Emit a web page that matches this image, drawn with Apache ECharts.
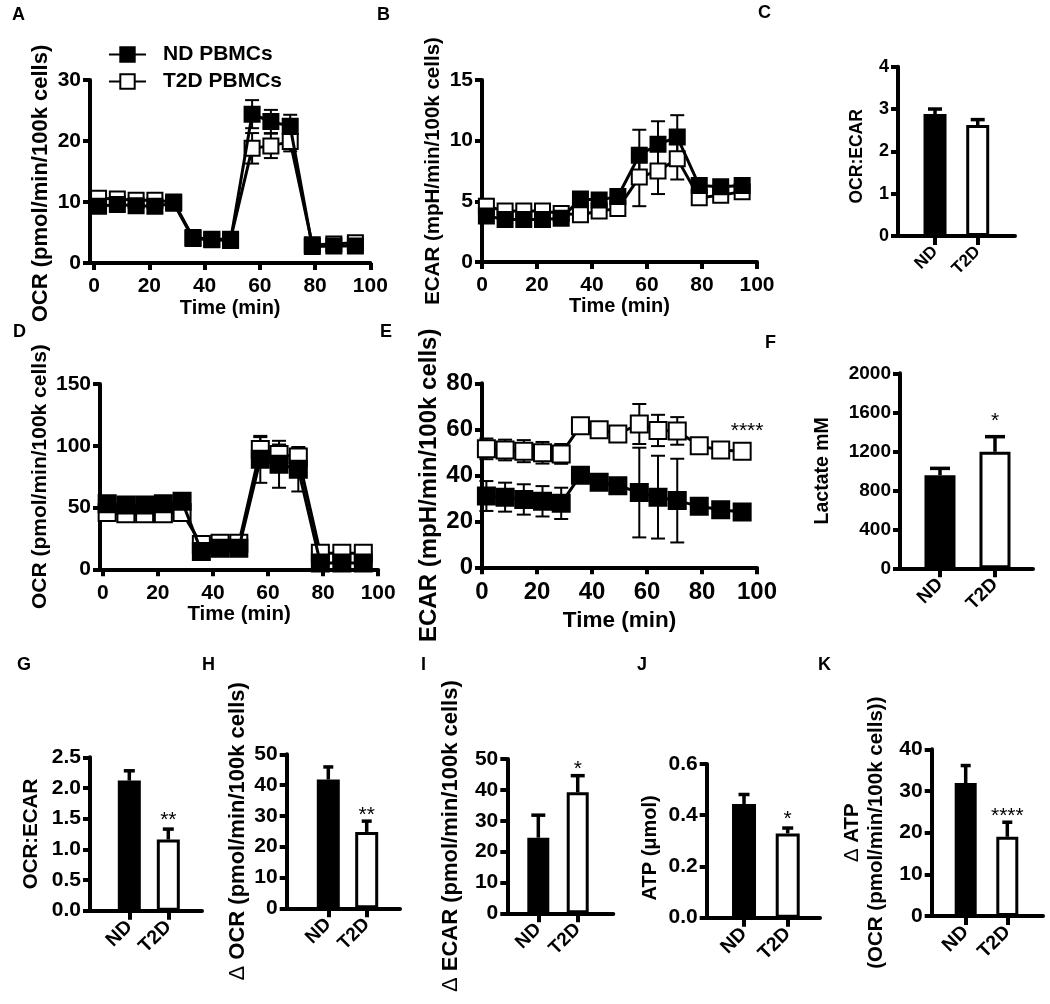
<!DOCTYPE html>
<html>
<head>
<meta charset="utf-8">
<script src="https://cdn.jsdelivr.net/npm/echarts@6/dist/echarts.min.js"></script>
<style>
  html, body { margin: 0; padding: 0; background: #fff; }
  #main { width: 1050px; height: 1004px; }
</style>
</head>
<body>
<div id="main"></div>
<script>
// ---- data ----
var timeMin = [1.6, 8.4, 15.2, 22, 28.8, 35.8, 42.6, 49.4, 57.2, 64, 71, 79, 86.8, 94.6];
var timeTicks = [0, 20, 40, 60, 80, 100];

// A: OCR (pmol/min/100k cells)
var ocrA_ND = [9.3, 9.6, 9.4, 9.3, 9.8, 4.0, 3.8, 3.7, 24.4, 23.2, 22.4, 2.7, 2.8, 2.8];
var ocrA_NDerr = [0.6, 0.5, 0.5, 0.5, 0.4, 0.4, 0.3, 0.3, 2.3, 1.9, 1.9, 0.3, 0.3, 0.3];
var ocrA_T2D = [10.6, 10.5, 10.3, 10.3, 10.0, 4.2, 3.9, 3.9, 18.8, 19.2, 19.9, 3.0, 3.1, 3.3];
var ocrA_T2Derr = [0.6, 0.5, 0.5, 0.5, 0.4, 0.4, 0.3, 0.3, 2.5, 2.0, 1.6, 0.3, 0.3, 0.3];

// B: ECAR (mpH/min/100k cells)
var ecarB_ND = [3.8, 3.5, 3.5, 3.5, 3.6, 5.2, 5.1, 5.4, 8.8, 9.7, 10.3, 6.3, 6.2, 6.3];
var ecarB_NDerr = [0.5, 0.3, 0.3, 0.3, 0.3, 0.3, 0.3, 0.3, 2.1, 1.9, 1.8, 0.3, 0.3, 0.3];
var ecarB_T2D = [4.6, 4.2, 4.2, 4.2, 4.0, 3.9, 4.2, 4.4, 7.0, 7.5, 8.5, 5.3, 5.5, 5.8];
var ecarB_T2Derr = [0.6, 0.4, 0.4, 0.4, 0.3, 0.3, 0.3, 0.3, 2.4, 1.9, 1.7, 0.3, 0.3, 0.3];

// D: OCR
var ocrD_ND = [53, 52, 52, 53, 55, 14.5, 17, 17, 89, 85, 81, 5, 5, 5];
var ocrD_NDerr = [3, 3, 3, 3, 3, 2, 2, 2, 19, 19, 18, 2, 2, 2];
var ocrD_T2D = [46, 45, 45, 45, 46, 20, 21, 21, 97, 93, 91, 13, 13, 13];
var ocrD_T2Derr = [4, 3, 3, 3, 3, 3, 3, 3, 10, 8, 7, 2, 2, 2];

// E: ECAR
var ecarE_ND = [31, 30.5, 29.5, 28.7, 27.8, 40, 37, 35.5, 32.5, 30.5, 29, 26.5, 25, 24];
var ecarE_NDerr = [6.5, 6.3, 6.6, 6.6, 6.8, 1, 1, 1, 19.5, 18, 18.2, 1, 1, 1];
var ecarE_T2D = [51.5, 51, 50.5, 49.8, 49.3, 61.5, 59.8, 58, 62.3, 59.5, 59.3, 52.8, 51, 50.5];
var ecarE_T2Derr = [4.5, 4.5, 4.8, 4.7, 4.3, 1, 1, 1, 8.7, 6.8, 6, 1, 1, 1];
var sigE = [[96.4, 61, '****']];

// bar panels
var groups = ['ND', 'T2D'];
var ratioC = [2.88, 2.62], ratioCErr = [0.12, 0.13], sigC = ['', ''];
var lactateF = [955, 1195], lactateFErr = [70, 155], sigF = ['', '*'];
var ratioG = [2.12, 1.16], ratioGErr = [0.16, 0.17], sigG = ['', '**'];
var dOcrH = [41.8, 24.8], dOcrHErr = [4.1, 3.5], sigH = ['', '**'];
var dEcarI = [24.5, 39.2], dEcarIErr = [7.3, 5.4], sigI = ['', '*'];
var atpJ = [0.444, 0.329], atpJErr = [0.037, 0.021], sigJ = ['', '*'];
var dAtpK = [31.9, 19.0], dAtpKErr = [4.2, 3.5], sigK = ['', '****'];

var panelLetters = ['A', 'B', 'C', 'D', 'E', 'F', 'G', 'H', 'I', 'J', 'K'];

// ---- layout / drawing ----
var FONT = '"Liberation Sans", Arial, Helvetica, sans-serif';
var letterPos = [[12, 6], [377, 6], [758, 4], [13, 323], [380, 323], [765, 334],
                 [17, 656], [202, 656], [421, 656], [637, 656], [818, 656]];

var chart = echarts.init(document.getElementById('main'));

var option = {
    animation: false,
    textStyle: { fontFamily: FONT, fontWeight: 'bold', color: '#000' },
    legend: {
        data: ['ND PBMCs', 'T2D PBMCs'],
        orient: 'vertical',
        left: 103,
        top: 39,
        itemWidth: 37,
        itemHeight: 18,
        itemGap: 6,
        selectedMode: false,
        textStyle: { fontSize: 21, fontWeight: 'bold', color: '#000', fontFamily: FONT, padding: [0, 0, 0, 12] }
    },
    grid: [],
    xAxis: [],
    yAxis: [],
    series: [],
    graphic: []
};

function txt(size, weight) {
    return { fontSize: size, fontWeight: weight || 'bold', color: '#000', fontFamily: FONT };
}

function addGrid(box) {
    option.grid.push({ left: box[0], top: box[1], width: box[2], height: box[3], outerBoundsMode: 'none' });
    return option.grid.length - 1;
}

function makeYAxis(gi, p) {
    var label = txt(p.tick);
    label.margin = 9;
    label.formatter = p.yFmt || function (v) { return String(v); };
    var nameStyle = txt(p.yTitle);
    nameStyle.lineHeight = p.yTitle + 3;
    // shift the title down along the axis (Prism centres it a bit low)
    if (p.yShift) nameStyle.padding = [0, 2 * p.yShift, 0, 0];
    nameStyle.rich = { d: { fontSize: p.yTitle, fontWeight: 'normal', fontFamily: FONT, color: '#000' } };
    return {
        gridIndex: gi, type: 'value', min: 0, max: p.yMax, interval: p.yStep,
        axisLine: { show: true, onZero: false, lineStyle: { color: '#000', width: 4 } },
        axisTick: { show: true, length: 7, lineStyle: { color: '#000', width: 4 } },
        axisLabel: label,
        splitLine: { show: false },
        name: p.yName, nameLocation: 'middle', nameRotate: 90, nameGap: p.yGap,
        nameTextStyle: nameStyle
    };
}

// error bars for time courses (both directions)
function pointErr(cap) {
    return function (params, api) {
        var x = api.value(0), y = api.value(1), e = api.value(2);
        var hi = api.coord([x, y + e]), lo = api.coord([x, y - e]);
        var st = { stroke: '#000', lineWidth: 2 };
        return {
            type: 'group', children: [
                { type: 'line', shape: { x1: hi[0], y1: hi[1], x2: lo[0], y2: lo[1] }, style: st },
                { type: 'line', shape: { x1: hi[0] - cap / 2, y1: hi[1], x2: hi[0] + cap / 2, y2: hi[1] }, style: st },
                { type: 'line', shape: { x1: lo[0] - cap / 2, y1: lo[1], x2: lo[0] + cap / 2, y2: lo[1] }, style: st }
            ]
        };
    };
}

// upward error bar for bars, plus significance stars
function barErr(cap, sig, gap) {
    return function (params, api) {
        var x = api.value(0), y = api.value(1), e = api.value(2);
        var base = api.coord([x, y]), top = api.coord([x, y + e]);
        var st = { stroke: '#000', lineWidth: 3.5 };
        var kids = [
            { type: 'line', shape: { x1: base[0], y1: base[1], x2: top[0], y2: top[1] }, style: st },
            { type: 'line', shape: { x1: top[0] - cap / 2, y1: top[1], x2: top[0] + cap / 2, y2: top[1] }, style: st }
        ];
        var s = sig[params.dataIndex];
        if (s) {
            kids.push({
                type: 'text', x: top[0], y: top[1] - gap + 0.22 * 21,
                style: { text: s, fill: '#000', font: 'normal 21px ' + FONT, align: 'center', verticalAlign: 'middle' }
            });
        }
        return { type: 'group', children: kids };
    };
}

function addLinePanel(p) {
    var gi = addGrid(p.box);
    var xl = txt(p.tick);
    xl.margin = 13;
    xl.customValues = timeTicks;
    option.xAxis.push({
        gridIndex: gi, type: 'value', min: p.xMin, max: 100,
        axisLine: { show: true, onZero: false, lineStyle: { color: '#000', width: 4 } },
        axisTick: { show: true, length: 7, lineStyle: { color: '#000', width: 4 }, customValues: timeTicks },
        axisLabel: xl,
        splitLine: { show: false },
        name: 'Time (min)', nameLocation: 'middle', nameGap: p.xGap, nameTextStyle: txt(p.xTitle)
    });
    option.yAxis.push(makeYAxis(gi, p));

    var pts = function (ys) { return timeMin.map(function (t, i) { return [t, ys[i]]; }); };
    var errPts = function (ys, es) { return timeMin.map(function (t, i) { return [t, ys[i], es[i]]; }); };

    [[p.t2d, p.t2dErr], [p.nd, p.ndErr]].forEach(function (d) {
        option.series.push({
            type: 'custom', xAxisIndex: gi, yAxisIndex: gi, silent: true, z: 1,
            renderItem: pointErr(14), encode: { x: 0, y: 1 }, data: errPts(d[0], d[1])
        });
    });
    option.series.push({
        type: 'line', name: p.names[1], xAxisIndex: gi, yAxisIndex: gi, z: 2, silent: true,
        data: pts(p.t2d), symbol: 'rect', symbolSize: p.sym,
        itemStyle: { color: '#fff', borderColor: '#000', borderWidth: 2 },
        lineStyle: { color: '#000', width: 3 }
    });
    option.series.push({
        type: 'line', name: p.names[0], xAxisIndex: gi, yAxisIndex: gi, z: 3, silent: true,
        data: pts(p.nd), symbol: 'rect', symbolSize: p.sym,
        itemStyle: { color: '#000', borderColor: '#000', borderWidth: 2 },
        lineStyle: { color: '#000', width: 3 }
    });
    if (p.note) {
        option.series.push({
            type: 'custom', xAxisIndex: gi, yAxisIndex: gi, silent: true, z: 4,
            encode: { x: 0, y: 1 }, data: p.note,
            renderItem: function (params, api) {
                var c = api.coord([api.value(0), api.value(1)]);
                return {
                    type: 'text', x: c[0], y: c[1] + 0.22 * 21,
                    style: { text: p.note[params.dataIndex][2], fill: '#000', font: 'normal 21px ' + FONT, align: 'center', verticalAlign: 'middle' }
                };
            }
        });
    }
}

function addBarPanel(p) {
    var gi = addGrid(p.box);
    var xl = txt(p.cat);
    xl.margin = 13;
    xl.rotate = 45;
    xl.customValues = [1, 2];
    xl.formatter = function (v) { return groups[Math.round(v) - 1]; };
    option.xAxis.push({
        gridIndex: gi, type: 'value', min: p.xMin, max: p.xMax,
        axisLine: { show: true, onZero: false, lineStyle: { color: '#000', width: 4 } },
        axisTick: { show: true, length: 9, lineStyle: { color: '#000', width: 4 }, customValues: [1, 2] },
        axisLabel: xl,
        splitLine: { show: false }
    });
    option.yAxis.push(makeYAxis(gi, p));
    option.series.push({
        type: 'bar', xAxisIndex: gi, yAxisIndex: gi, barWidth: p.barW, silent: true, z: 2,
        itemStyle: { borderColor: '#000', borderWidth: 3 },
        data: groups.map(function (g, i) {
            return { value: [i + 1, p.vals[i]], itemStyle: { color: i === 0 ? '#000' : '#fff' } };
        })
    });
    option.series.push({
        type: 'custom', xAxisIndex: gi, yAxisIndex: gi, silent: true, z: 3,
        encode: { x: 0, y: 1 }, renderItem: barErr(p.capW, p.sig, p.sigGap),
        data: groups.map(function (g, i) { return [i + 1, p.vals[i], p.errs[i]]; })
    });
}

var ocrName = 'OCR (pmol/min/100k cells)';
var ecarName = 'ECAR (mpH/min/100k cells)';
var oneDecimal = function (v) { return v.toFixed(1); };

addLinePanel({ box: [90, 80, 280.3, 183], xMin: -1.5, yMax: 30, yStep: 10, tick: 21, xTitle: 20, yTitle: 22,
    yGap: 33, xGap: 35, sym: 15, yShift: 12, yName: ocrName, names: ['ND PBMCs', 'T2D PBMCs'],
    nd: ocrA_ND, ndErr: ocrA_NDerr, t2d: ocrA_T2D, t2dErr: ocrA_T2Derr });
addLinePanel({ box: [482, 80, 275, 182], xMin: 0, yMax: 15, yStep: 5, tick: 21, xTitle: 20, yTitle: 20.5,
    yGap: 37, xGap: 34, sym: 15, yName: ecarName, names: ['ND B', 'T2D B'],
    nd: ecarB_ND, ndErr: ecarB_NDerr, t2d: ecarB_T2D, t2dErr: ecarB_T2Derr });
addBarPanel({ box: [898, 66.7, 117, 169.3], xMin: 0.133, xMax: 2.873, yMax: 4, yStep: 1, tick: 18, cat: 17,
    yTitle: 17.5, yGap: 31, yShift: 5, barW: 23, capW: 14, sigGap: 12, yName: 'OCR:ECAR',
    vals: ratioC, errs: ratioCErr, sig: sigC });
addLinePanel({ box: [100, 384, 278.2, 185.3], xMin: -1, yMax: 150, yStep: 50, tick: 21, xTitle: 20.5, yTitle: 21,
    yGap: 45, xGap: 32, sym: 17, yName: ocrName, names: ['ND D', 'T2D D'],
    nd: ocrD_ND, ndErr: ocrD_NDerr, t2d: ocrD_T2D, t2dErr: ocrD_T2Derr });
addLinePanel({ box: [482, 383.3, 275, 184], xMin: 0, yMax: 80, yStep: 20, tick: 24, xTitle: 22.5, yTitle: 24,
    yGap: 38, xGap: 42, sym: 17, yShift: 10, yName: ecarName, names: ['ND E', 'T2D E'], note: sigE,
    nd: ecarE_ND, ndErr: ecarE_NDerr, t2d: ecarE_T2D, t2dErr: ecarE_T2Derr });
addBarPanel({ box: [900, 373.3, 133, 195], xMin: 0.273, xMax: 2.691, yMax: 2000, yStep: 400, tick: 19, cat: 19,
    yTitle: 19.5, yGap: 66, barW: 31, capW: 20, sigGap: 20, yName: 'Lactate mM',
    vals: lactateF, errs: lactateFErr, sig: sigF });
addBarPanel({ box: [90, 757.3, 112, 153.4], xMin: -0.008, xMax: 2.864, yMax: 2.5, yStep: 0.5, tick: 21, cat: 19.5,
    yTitle: 20.5, yGap: 47, barW: 23, capW: 11, sigGap: 13.5, yName: 'OCR:ECAR', yFmt: oneDecimal,
    vals: ratioG, errs: ratioGErr, sig: sigG });
addBarPanel({ box: [286.7, 754.3, 113.3, 154], xMin: -0.083, xMax: 2.867, yMax: 50, yStep: 10, tick: 21, cat: 19,
    yTitle: 22, yGap: 36, barW: 23, capW: 10, sigGap: 11, yName: '{d|\u0394} ' + ocrName,
    vals: dOcrH, errs: dOcrHErr, sig: sigH });
addBarPanel({ box: [507.3, 759, 106, 154.3], xMin: 0.213, xMax: 2.903, yMax: 50, yStep: 10, tick: 21, cat: 19,
    yTitle: 22, yGap: 44, barW: 22, capW: 14, sigGap: 10.7, yName: '{d|\u0394} ECAR (pmol/min/100k cells)',
    vals: dEcarI, errs: dEcarIErr, sig: sigI });
addBarPanel({ box: [706.7, 764, 113.3, 153.7], xMin: 0.146, xMax: 2.739, yMax: 0.6, yStep: 0.2, tick: 21, cat: 19.5,
    yTitle: 20, yGap: 45, yShift: 7, barW: 24, capW: 11, sigGap: 13, yName: 'ATP (\u03bcmol)', yFmt: oneDecimal,
    vals: atpJ, errs: atpJErr, sig: sigJ });
addBarPanel({ box: [931.7, 749.3, 111.3, 166.7], xMin: 0.183, xMax: 2.858, yMax: 40, yStep: 10, tick: 21, cat: 19.5,
    yTitle: 20.5, yGap: 44, barW: 22, capW: 10, sigGap: 10.5, yName: '{d|\u0394} ATP\n(' + ocrName + ')',
    vals: dAtpK, errs: dAtpKErr, sig: sigK });

panelLetters.forEach(function (l, i) {
    option.graphic.push({
        type: 'text', left: letterPos[i][0], top: letterPos[i][1], silent: true, z: 100,
        style: { text: l, font: 'bold 18px ' + FONT, fill: '#000' }
    });
});

chart.setOption(option);
</script>
</body>
</html>
